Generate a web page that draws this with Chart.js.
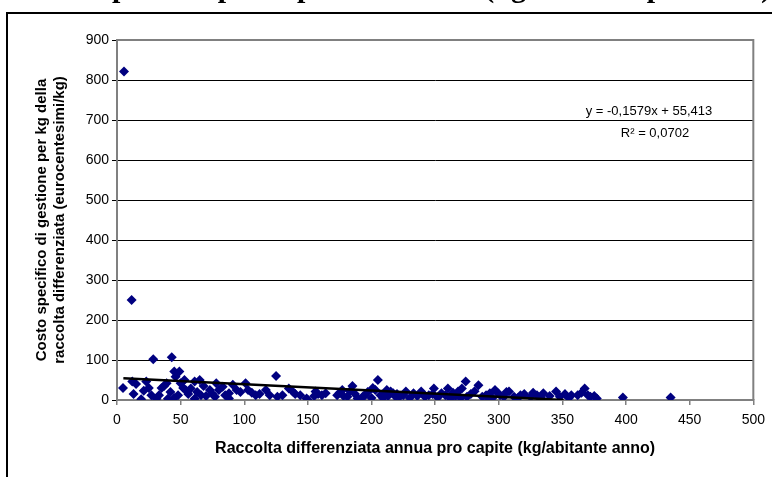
<!DOCTYPE html>
<html>
<head>
<meta charset="utf-8">
<script src="https://cdn.jsdelivr.net/npm/chart.js@4/dist/chart.umd.min.js"></script>
<style>
  html, body { margin: 0; padding: 0; background: #fff; }
  #wrap { width: 772px; height: 477px; }
</style>
</head>
<body>
<div id="wrap"><canvas id="scatterChart" width="772" height="477"></canvas></div>
<script>
// Raccolta differenziata pro capite (kg/ab anno) vs costo specifico (eurocent/kg)
const raccoltaX = [5.5, 11.5, 4.7, 12, 13, 28.5, 21, 23, 27, 19, 31, 43, 35, 39, 40, 45, 49, 46, 50, 53,
  45, 54, 58, 61, 65, 61, 66, 73, 78, 77, 80, 83, 88, 91, 94, 88, 101, 103, 109, 117,
  120, 125, 126, 130, 135, 138, 144, 149, 150, 156, 161, 164, 173, 177, 181, 185, 189, 191, 195, 205,
  203, 207, 211, 215, 219, 212, 217, 222, 227, 233, 239, 245, 249, 255, 260, 262, 268, 271, 274, 275,
  284, 287, 292, 293, 297, 301, 308, 312, 317, 325, 330, 335, 345, 348, 357, 362, 367.5, 372, 377, 397.5,
  435, 175, 178, 183, 187, 193, 197, 200, 201, 209, 213, 220, 225, 230, 236, 242, 248, 252, 258, 264,
  266, 270, 278, 281, 290, 295, 299, 304, 306, 315, 320, 327, 333, 340, 352, 355, 365, 370, 375, 15,
  25, 33, 37, 42, 48, 52, 56, 63, 68, 70, 75, 85, 97, 106, 112, 140, 155, 158];
const costoY = [821, 250, 30, 46, 15, 102, 23, 46, 12, 2, 3, 107, 30, 42, 3, 71, 71, 58, 42, 50,
  5, 25, 29, 46, 50, 3, 12, 25, 42, 8, 25, 33, 17, 38, 25, 4, 42, 25, 12, 25,
  12, 60, 8, 12, 29, 21, 12, 4, 0, 21, 12, 17, 12, 25, 8, 35, 4, 0, 12, 50,
  25, 12, 17, 21, 8, 25, 17, 8, 21, 17, 21, 12, 29, 17, 29, 4, 21, 29, 46, 8,
  37, 8, 0, 17, 25, 12, 21, 8, 12, 8, 12, 17, 21, 8, 12, 12, 29, 8, 4, 6,
  6, 18, 10, 22, 15, 8, 20, 5, 30, 5, 10, 15, 12, 5, 10, 8, 15, 6, 12, 18,
  10, 5, 15, 22, 12, 5, 18, 8, 20, 5, 15, 18, 6, 10, 15, 5, 18, 12, 10, 40,
  30, 12, 35, 20, 12, 30, 15, 20, 35, 10, 15, 12, 20, 18, 15, 15, 10, 15];

// linea di tendenza (estremi)
const trendX = [5, 351];
const trendY = [54.6, 0];
const trendLabel = "y = -0,1579x + 55,413";
const r2Label = "R\u00B2 = 0,0702";

const xTicks = { min: 0, max: 500, step: 50 };
const yTicks = { min: 0, max: 900, step: 100 };

const titleText = "Costo specifico per capite e raccolta (kg/abitante per anno)";
const xTitle = "Raccolta differenziata annua pro capite (kg/abitante anno)";
const yTitle = ["Costo specifico di gestione per kg della", "raccolta differenziata (eurocentesimi/kg)"];

const points = raccoltaX.map((x, i) => ({ x: x, y: costoY[i] }));
const trend = trendX.map((x, i) => ({ x: x, y: trendY[i] }));

const sansFont = "'Liberation Sans', Arial, sans-serif";

// cornice, titolo tagliato, bordo area e equazione
const decorPlugin = {
  id: "decor",
  beforeDraw(chart) {
    const ctx = chart.ctx;
    ctx.save();
    ctx.fillStyle = "#fff";
    ctx.fillRect(0, 0, chart.width, chart.height);
    // titolo (solo le discendenti visibili)
    ctx.font = "bold 30px 'Liberation Serif', 'Times New Roman', serif";
    ctx.fillStyle = "#000";
    ctx.textAlign = "left";
    ctx.textBaseline = "alphabetic";
    const x0 = 112 - ctx.measureText("Costo s").width;
    ctx.fillText(titleText, x0, -3);
    // cornice esterna
    ctx.strokeStyle = "#000";
    ctx.lineWidth = 2;
    ctx.beginPath();
    ctx.moveTo(7, chart.height);
    ctx.lineTo(7, 13);
    ctx.lineTo(chart.width, 13);
    ctx.stroke();
    ctx.restore();
  },
  afterDatasetsDraw(chart) {
    const ctx = chart.ctx;
    const a = chart.chartArea;
    const xs = chart.scales.x, ys = chart.scales.y;
    ctx.save();
    ctx.strokeStyle = "#808080";
    ctx.lineWidth = 2;
    ctx.beginPath();
    ctx.moveTo(a.left, a.top);
    ctx.lineTo(a.right, a.top);
    ctx.lineTo(a.right, a.bottom);
    ctx.stroke();
    ctx.fillStyle = "#000";
    ctx.font = "13px " + sansFont;
    ctx.textAlign = "center";
    ctx.textBaseline = "middle";
    const cx = xs.getPixelForValue(418);
    const cy = ys.getPixelForValue(722);
    ctx.fillText(trendLabel, cx, cy);
    ctx.fillText(r2Label, cx + 6, cy + 22);
    ctx.restore();
  }
};

const ctx = document.getElementById("scatterChart").getContext("2d");

new Chart(ctx, {
  type: "scatter",
  data: {
    datasets: [
      {
        label: "Costo specifico",
        data: points,
        pointStyle: "rectRot",
        pointRadius: 5,
        pointHoverRadius: 5,
        backgroundColor: "#000080",
        borderColor: "#000080",
        borderWidth: 0,
        order: 2,
      },
      {
        label: "Tendenza",
        type: "line",
        data: trend,
        borderColor: "#000",
        borderWidth: 2.5,
        pointRadius: 0,
        fill: false,
        order: 1,
      },
    ],
  },
  options: {
    responsive: false,
    animation: false,
    devicePixelRatio: 1,
    layout: { padding: { left: 0, top: 40, right: 16, bottom: 0 } },
    plugins: {
      legend: { display: false },
      tooltip: { enabled: false },
    },
    scales: {
      x: {
        type: "linear",
        min: xTicks.min,
        max: xTicks.max,
        ticks: { stepSize: xTicks.step, color: "#000", font: { size: 14, family: sansFont }, padding: 7, maxRotation: 0 },
        grid: { drawOnChartArea: false, drawTicks: true, tickLength: 5, color: "#808080", lineWidth: 1.5 },
        border: { color: "#808080", width: 2 },
        title: {
          display: true,
          text: xTitle,
          color: "#000",
          font: { size: 16, weight: "bold", family: sansFont, lineHeight: 1.2 },
          padding: { top: 4, bottom: 19 },
        },
        afterFit(scale) { scale.height = 77; },
      },
      y: {
        type: "linear",
        min: yTicks.min,
        max: yTicks.max,
        ticks: { stepSize: yTicks.step, color: "#000", font: { size: 14, family: sansFont }, padding: 3 },
        grid: { color: "#000", lineWidth: 1, drawTicks: true, tickLength: 5 },
        border: { color: "#808080", width: 2 },
        title: {
          display: true,
          text: yTitle,
          color: "#000",
          font: { size: 15, weight: "bold", family: sansFont, lineHeight: 1.2 },
          padding: { top: 33, bottom: 0 },
        },
        afterFit(scale) { scale.width = 117; },
      },
    },
  },
  plugins: [decorPlugin],
});
</script>
</body>
</html>
